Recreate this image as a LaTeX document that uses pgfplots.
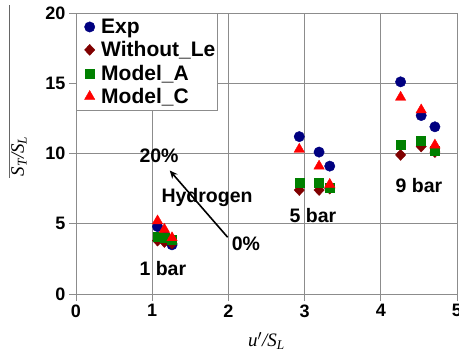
\documentclass[border=0pt]{standalone}
\usepackage{fontspec}
\setmainfont{Liberation Sans}
\newfontfamily\serif{Liberation Serif}
\usepackage{pgfplots}
\pgfplotsset{compat=1.18}
\usetikzlibrary{arrows.meta}
\definecolor{expc}{RGB}{0,0,128}
\definecolor{wlec}{RGB}{128,0,0}
\definecolor{mac}{RGB}{0,128,0}
\definecolor{mcc}{RGB}{255,0,0}
\begin{document}
\begin{tikzpicture}
\begin{axis}[
  scale only axis,
  width=381pt, height=281pt,
  xmin=0, xmax=5, ymin=0, ymax=20,
  xtick={0,1,2,3,4,5}, ytick={0,5,10,15,20},
  grid=major,
  grid style={draw=black!45, line width=0.8pt},
  axis line style={draw=black!45, line width=0.8pt},
  tick style={draw=black!45, line width=0.8pt},
  tick align=outside, major tick length=7pt,
  xtick pos=bottom, ytick pos=left,
  tick label style={font=\fontsize{18}{20}\selectfont\bfseries},
  /pgf/number format/assume math mode=true,
  clip mode=individual,
  xlabel={\fontsize{19}{22}\selectfont\serif\itshape u$'$/S\textsubscript{L}},
  ylabel={\fontsize{19}{22}\selectfont\serif\itshape S\textsubscript{T}/S\textsubscript{L}},
  xlabel style={at={(axis description cs:0.5,-0.168)}, anchor=center},
  ylabel style={at={(axis description cs:-0.15,0.49)}, anchor=center},
  legend style={at={(0,1)}, anchor=north west, draw=black!45, fill=white,
    font=\fontsize{21}{24}\selectfont\bfseries, row sep=2.6pt,
    inner xsep=0pt, inner ysep=3.8pt},
  legend cell align=left,
  legend image code/.code={\path[draw=none,fill=none] (0pt,0pt) -- (23pt,0pt);
    \draw[#1, only marks] plot coordinates {(13.5pt,0pt)};},
]
\addplot[only marks, mark=*, mark size=5.2pt, color=expc] coordinates {
 (1.07,4.8) (1.16,4.2) (1.26,3.5) (2.93,11.2) (3.19,10.1) (3.33,9.1) (4.26,15.1) (4.53,12.7) (4.71,11.9)};
\addlegendentry{Exp}
\addplot[only marks, mark=diamond*, mark size=5.5pt, mark options={xscale=1.25}, color=wlec] coordinates {
 (1.07,3.8) (1.16,3.7) (1.26,3.6) (2.93,7.4) (3.19,7.4) (3.33,7.5) (4.26,9.9) (4.53,10.5) (4.71,10.1)};
\addlegendentry{Without\_Le}
\addplot[only marks, mark=square*, mark size=4.5pt, color=mac] coordinates {
 (1.07,4.1) (1.16,4.0) (1.26,3.9) (2.93,7.9) (3.19,7.9) (3.33,7.6) (4.26,10.6) (4.53,10.9) (4.71,10.2)};
\addlegendentry{Model\_A}
\addplot[only marks, mark=triangle*, mark size=6pt, color=mcc] coordinates {
 (1.07,5.2) (1.16,4.6) (1.26,4.0) (2.93,10.3) (3.19,9.1) (3.33,7.8) (4.26,14.0) (4.53,13.1) (4.71,10.6)};
\addlegendentry{Model\_C}
\draw[black!60, line width=0.8pt] (axis description cs:-0.176,1.028) -- (axis description cs:-0.176,0.413);
\draw[-{Stealth[length=8pt,width=7pt]}, line width=1.6pt] (axis cs:1.99,4.04) -- (axis cs:1.23,8.79);
\begin{scope}[every node/.style={font=\fontsize{19.5}{22}\selectfont\bfseries}]
\node at (axis cs:1.09,9.86) {20\%};
\node at (axis cs:1.72,6.88) {Hydrogen};
\node at (axis cs:2.23,3.6) {0\%};
\node at (axis cs:1.14,1.84) {1 bar};
\node at (axis cs:3.11,5.6) {5 bar};
\node at (axis cs:4.50,7.73) {9 bar};
\end{scope}
\end{axis}
\pgfresetboundingbox
\useasboundingbox ([shift={(-76pt,-58pt)}]current axis.south west) rectangle ([shift={(2pt,13pt)}]current axis.north east);
\end{tikzpicture}
\end{document}
